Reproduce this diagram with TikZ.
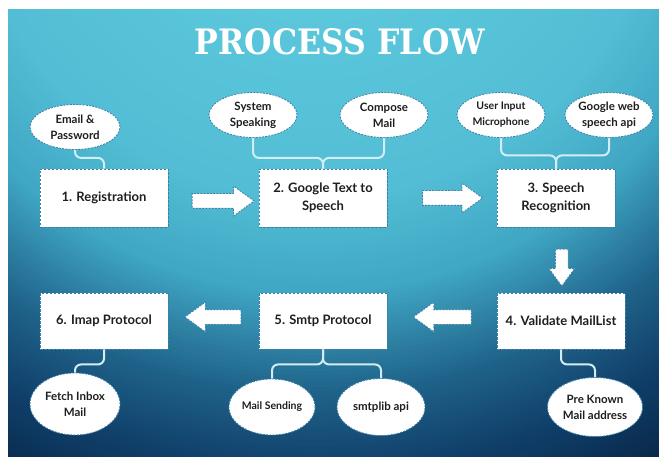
\documentclass[tikz,border=0pt]{standalone}
\usepackage{fontspec}
\setmainfont{Lato}
\newfontfamily\titlefont{DejaVu Serif}
\usepackage{graphicx}
\usepackage{tikz}
\usetikzlibrary{calc,shapes.geometric,shapes.arrows}

\definecolor{bgA}{HTML}{5CC8DC}
\definecolor{bgB}{HTML}{52BDD4}
\definecolor{bgC}{HTML}{3FA6C3}
\definecolor{bgD}{HTML}{1F6289}
\definecolor{bgE}{HTML}{0F3E69}
\definecolor{bgF}{HTML}{082442}
\definecolor{boxline}{HTML}{3D7FA8}
\definecolor{linkcol}{HTML}{D2EEF4}
\definecolor{textcol}{HTML}{1E1E1E}

\begin{document}
\begin{tikzpicture}[x=1pt, y=-1pt,
    box/.style={draw=boxline, fill=white, line width=0.9pt, dash pattern=on 2.5pt off 1.5pt,
        minimum width=128, minimum height=58, align=center, text=textcol,
        font=\fontsize{13}{18}\selectfont\bfseries},
    bubble/.style={ellipse, draw=boxline, fill=white, line width=0.8pt, dash pattern=on 2pt off 1.2pt,
        inner sep=0pt, minimum width=88, minimum height=45, align=center, text=textcol,
        font=\fontsize{11.5}{16}\selectfont\bfseries},
    small/.style={font=\fontsize{10.5}{16}\selectfont\bfseries},
    flowarrow/.style={single arrow, fill=white, draw=boxline, line width=0.8pt, dash pattern=on 2pt off 1.2pt,
        inner sep=7pt, minimum width=29, minimum height=62, single arrow head extend=7.5,
        single arrow tip angle=72},
    link/.style={draw=linkcol, line width=2pt, rounded corners=6pt}]

    %% Background
    \useasboundingbox (0,0) rectangle (659,457);
    \fill[white] (0,0) rectangle (659,457);
    \begin{scope}
    \clip (8,10) rectangle (659,457);
    \foreach \ca/\cb/\ra/\rb in {bgE/bgF/625/720, bgD/bgE/545/625, bgC/bgD/445/545, bgB/bgC/350/445, bgA/bgB/150/350}
    {
    \foreach \k in {0,...,24}
    {
    \pgfmathsetmacro\rr{\rb-\k*(\rb-\ra)/25}
    \pgfmathsetmacro\pp{100-\k*4}
    \fill[\cb!\pp!\ca] (315,-150) circle (\rr);
    }
    }
    \end{scope}

    % Title
    \node[text=white] (title) at (340,42) {\titlefont\bfseries\resizebox{290pt}{26pt}{PROCESS FLOW}};

    % Steps
    \node[box] (reg) at (104,198) {1. Registration};
    \node[box] (gts) at (323,198) {2. Google Text to\\Speech};
    \node[box, minimum width=118] (speech) at (556,198) {3. Speech\\Recognition};
    \node[box, minimum height=56] (validate) at (561,321) {4. Validate MailList};
    \node[box, minimum height=56] (smtp) at (323,321) {5. Smtp Protocol};
    \node[box, minimum height=56] (imap) at (104,321) {6. Imap Protocol};

    % Inputs
    \node[bubble, minimum width=90] (email) at (75,127) {Email \&\\Password};
    \node[bubble] (sysspk) at (253,115) {System\\Speaking};
    \node[bubble] (compose) at (384,115) {Compose\\Mail};
    \node[bubble, small] (userin) at (501,115) {User Input\\Microphone};
    \node[bubble] (gweb) at (609,115) {Google web\\speech api};
    \node[bubble, minimum width=90, minimum height=62] (fetch) at (75,404) {Fetch Inbox\\Mail};
    \node[bubble, small, minimum width=86, minimum height=56] (mailsend) at (272,407) {Mail Sending};
    \node[bubble, minimum height=57] (smtplib) at (381,407) {smtplib api};
    \node[bubble, minimum width=95, minimum height=59] (preknown) at (595,407) {Pre Known\\Mail address};

    % Links
    \draw[link] (email.south) -- ++(0,8) -| (reg.north);
    \draw[link] (sysspk.south) -- ++(0,20) -| (gts.north);
    \draw[link] (compose.south) -- ++(0,20) -| (gts.north);
    \draw[link] (userin.south) -- ++(0,17.5) -| (speech.north);
    \draw[link] (gweb.south) -- ++(0,17.5) -| (speech.north);
    \draw[link] (validate.south) -- ++(0,15) -| (preknown.north);
    \draw[link] (smtp.south) -- ++(0,15) -| (mailsend.north);
    \draw[link] (smtp.south) -- ++(0,15) -| (smtplib.north);
    \draw[link] (imap.south) -- ++(0,15) -| (fetch.north);

    %Arrows
    \node[flowarrow] (a12) at ($(reg.east)!0.55!(gts.west)+(0,3)$) {};
    \node[flowarrow, minimum height=60] (a23) at ($(gts.east)!0.55!(speech.west)$) {};
    \node[flowarrow, inner sep=6pt, minimum width=25, minimum height=37, single arrow head extend=6.5, shape border rotate=270]
        (a34) at ($(speech.south)!0.55!(validate.north)+(3,0)$) {};
    \node[flowarrow, minimum height=58, shape border rotate=180] (a45) at ($(validate.west)!0.45!(smtp.east)+(0,-4)$) {};
    \node[flowarrow, minimum height=56, shape border rotate=180] (a56) at ($(smtp.west)!0.45!(imap.east)+(0,-4)$) {};

\end{tikzpicture}
\end{document}
